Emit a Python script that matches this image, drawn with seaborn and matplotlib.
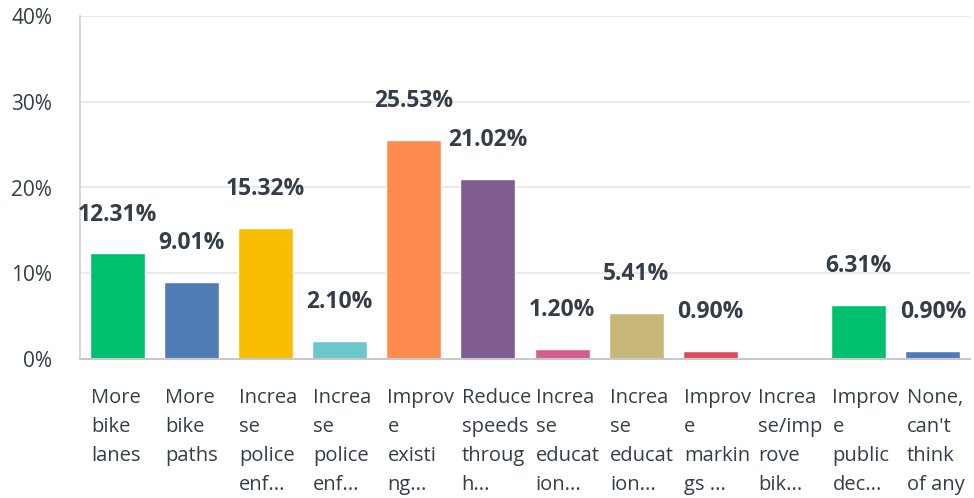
import matplotlib
matplotlib.use("Agg")
import matplotlib.pyplot as plt
import seaborn as sns
import pandas as pd

categories = [
    "More\nbike\nlanes",
    "More\nbike\npaths",
    "Increa\nse\npolice\nenf...",
    "Increa\nse\npolice\nenf...",
    "Improv\ne\nexisti\nng...",
    "Reduce\nspeeds\nthroug\nh...",
    "Increa\nse\neducat\nion...",
    "Increa\nse\neducat\nion...",
    "Improv\ne\nmarkin\ngs ...",
    "Increa\nse/imp\nrove\nbik...",
    "Improv\ne\npublic\ndec...",
    "None,\ncan't\nthink\nof any",
]
values = [12.31, 9.01, 15.32, 2.10, 25.53, 21.02, 1.20, 5.41, 0.90, 0.0, 6.31, 0.90]
value_labels = ["12.31%", "9.01%", "15.32%", "2.10%", "25.53%", "21.02%",
                "1.20%", "5.41%", "0.90%", "", "6.31%", "0.90%"]
colors = ["#00BF6F", "#507CB6", "#F9BE00", "#6BC8CD", "#FF8B4F", "#7F5D90",
          "#D25F90", "#C7B879", "#DB4D5C", "#768086", "#00BF6F", "#507CB6"]
y_ticks = [0, 10, 20, 30, 40]
y_tick_labels = ["0%", "10%", "20%", "30%", "40%"]

sns.set_theme(style="white")
plt.rcParams["font.family"] = ["Open Sans", "DejaVu Sans"]

df = pd.DataFrame({"cat": [f"c{i}" for i in range(len(values))], "val": values})

fig = plt.figure(figsize=(9.74, 4.98), dpi=100)
ax = fig.add_axes([80 / 974, 139 / 498, 890 / 974, 343 / 498])

sns.barplot(data=df, x="cat", y="val", hue="cat", palette=colors, legend=False,
            width=0.74, saturation=1, ax=ax)

ax.set_ylim(0, 40)
ax.set_xlim(-0.5, len(values) - 0.5)
ax.set_yticks(y_ticks)
ax.set_yticklabels(y_tick_labels, fontsize=15, color="#333e48")
ax.yaxis.grid(True, color="#e6e6e6", linewidth=1.2)
ax.set_axisbelow(True)

ax.set_xticks([i - 0.355 for i in range(len(values))])
ax.set_xticklabels(categories, ha="left", va="top", fontsize=14.5,
                   color="#333e48", linespacing=1.6)
ax.tick_params(axis="x", length=0, pad=21)
ax.tick_params(axis="y", length=0, pad=20)
ax.set_xlabel("")
ax.set_ylabel("")

for side in ["top", "right"]:
    ax.spines[side].set_visible(False)
ax.spines["left"].set_color("#d0d0d0")
ax.spines["bottom"].set_color("#c8c8c8")
ax.spines["left"].set_linewidth(1.2)
ax.spines["bottom"].set_linewidth(1.5)

for i, (v, lab) in enumerate(zip(values, value_labels)):
    if lab:
        ax.annotate(lab, xy=(i, v), xytext=(0, 28), textcoords="offset points",
                    ha="center", va="center", fontsize=16.5, fontweight="bold",
                    color="#333e48")

fig.savefig("out.png", dpi=100, facecolor="white")
